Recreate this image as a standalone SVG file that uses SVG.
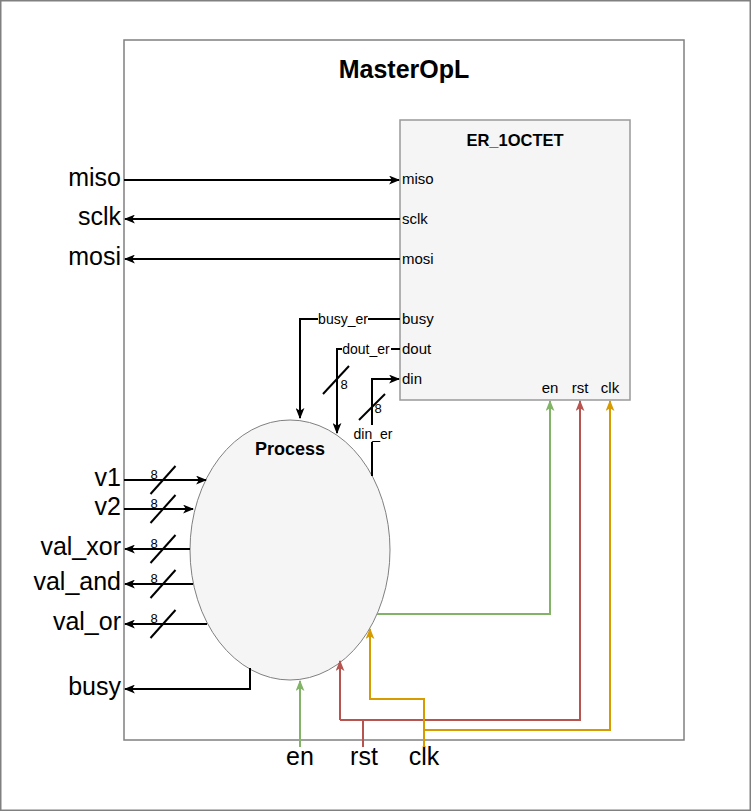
<svg xmlns="http://www.w3.org/2000/svg" width="751" height="811" viewBox="0 0 751 811">
<style>
text{font-family:"Liberation Sans",Arial,sans-serif;fill:#000}
.big{font-size:25px}
.port{font-size:15px}
.sm{font-size:14px}
.n8{font-size:13px;text-anchor:middle}
.w{stroke:#000;stroke-width:2;fill:none}
.g{stroke:#82b366;stroke-width:2;fill:none}
.r{stroke:#b85450;stroke-width:2;fill:none}
.o{stroke:#d79b00;stroke-width:2;fill:none}
.sl{stroke:#000;stroke-width:2}
.bg{fill:#fff}
</style>
<defs>
<marker id="ak" viewBox="0 0 10 8" refX="9" refY="4" markerWidth="11" markerHeight="9" markerUnits="userSpaceOnUse" orient="auto"><path d="M0,0 L10,4 L0,8 L2.5,4 Z" fill="#000"/></marker>
<marker id="ag" viewBox="0 0 10 8" refX="9" refY="4" markerWidth="11" markerHeight="9" markerUnits="userSpaceOnUse" orient="auto"><path d="M0,0 L10,4 L0,8 L2.5,4 Z" fill="#82b366"/></marker>
<marker id="ar" viewBox="0 0 10 8" refX="9" refY="4" markerWidth="11" markerHeight="9" markerUnits="userSpaceOnUse" orient="auto"><path d="M0,0 L10,4 L0,8 L2.5,4 Z" fill="#b85450"/></marker>
<marker id="ao" viewBox="0 0 10 8" refX="9" refY="4" markerWidth="11" markerHeight="9" markerUnits="userSpaceOnUse" orient="auto"><path d="M0,0 L10,4 L0,8 L2.5,4 Z" fill="#d79b00"/></marker>
</defs>
<rect x="0.75" y="0.75" width="749.5" height="809.5" fill="#fff" stroke="#808080" stroke-width="1.5"/>
<g id="MasterOpL">
<rect x="124" y="40" width="560" height="700" fill="#fff" stroke="#808080" stroke-width="1.5"/>
<text x="404" y="78" font-size="25" font-weight="bold" text-anchor="middle">MasterOpL</text>
</g>
<g id="ER_1OCTET">
<rect x="400" y="120" width="230" height="280" fill="#f5f5f5" stroke="#999" stroke-width="1.5"/>
<text x="515" y="146" font-size="16.5" font-weight="bold" text-anchor="middle">ER_1OCTET</text>
<text class="port" x="402" y="184">miso</text>
<text class="port" x="402" y="224">sclk</text>
<text class="port" x="402" y="264">mosi</text>
<text class="port" x="402" y="324">busy</text>
<text class="port" x="402" y="354">dout</text>
<text class="port" x="402" y="384">din</text>
<text class="port" x="550" y="393" text-anchor="middle">en</text>
<text class="port" x="580" y="393" text-anchor="middle">rst</text>
<text class="port" x="610" y="393" text-anchor="middle">clk</text>
</g>
<g id="Process">
<ellipse cx="290" cy="550" rx="100" ry="130" fill="#f5f5f5" stroke="#808080" stroke-width="1"/>
<text x="290" y="455" font-size="18" font-weight="bold" text-anchor="middle">Process</text>
</g>
<g id="labels">
<text class="big" x="121" y="186" text-anchor="end">miso</text>
<text class="big" x="121" y="225" text-anchor="end">sclk</text>
<text class="big" x="121" y="265" text-anchor="end">mosi</text>
<text class="big" x="121" y="486" text-anchor="end">v1</text>
<text class="big" x="121" y="515" text-anchor="end">v2</text>
<text class="big" x="121" y="555" text-anchor="end">val_xor</text>
<text class="big" x="121" y="590" text-anchor="end">val_and</text>
<text class="big" x="121" y="630" text-anchor="end">val_or</text>
<text class="big" x="121" y="695" text-anchor="end">busy</text>
<text class="big" x="300" y="765" text-anchor="middle">en</text>
<text class="big" x="364" y="765" text-anchor="middle">rst</text>
<text class="big" x="424" y="765" text-anchor="middle">clk</text>
</g>
<g id="connectors">
<path class="w" d="M124,180 H399" marker-end="url(#ak)"/>
<path class="w" d="M400,219 H125" marker-end="url(#ak)"/>
<path class="w" d="M400,259 H125" marker-end="url(#ak)"/>
<path class="w" d="M400,319 H300 V418" marker-end="url(#ak)"/>
<rect class="bg" x="318" y="311" width="50" height="16"/>
<text class="sm" x="343" y="324" text-anchor="middle">busy_er</text>
<path class="w" d="M400,349 H337 V433" marker-end="url(#ak)"/>
<rect class="bg" x="342" y="341" width="49" height="16"/>
<text class="sm" x="366" y="354" text-anchor="middle">dout_er</text>
<line class="sl" x1="323" y1="394" x2="349" y2="366"/>
<text class="n8" x="344" y="389">8</text>
<path class="w" d="M372,476 V379 H399" marker-end="url(#ak)"/>
<rect class="bg" x="351" y="425" width="44" height="17"/>
<text class="sm" x="373" y="439" text-anchor="middle">din_er</text>
<line class="sl" x1="359" y1="420" x2="385" y2="394"/>
<text class="n8" x="378" y="413">8</text>
<path class="w" d="M124,480 H206" marker-end="url(#ak)"/>
<path class="w" d="M124,509 H193" marker-end="url(#ak)"/>
<path class="w" d="M190,549 H125" marker-end="url(#ak)"/>
<path class="w" d="M193,584 H125" marker-end="url(#ak)"/>
<path class="w" d="M207,624 H125" marker-end="url(#ak)"/>
<path class="w" d="M250,668 V689 H125" marker-end="url(#ak)"/>
<line class="sl" x1="150.5" y1="494" x2="175.5" y2="466"/>
<text class="n8" x="154" y="479">8</text>
<line class="sl" x1="150.5" y1="523" x2="175.5" y2="495"/>
<text class="n8" x="154" y="508">8</text>
<line class="sl" x1="150.5" y1="563" x2="175.5" y2="535"/>
<text class="n8" x="154" y="548">8</text>
<line class="sl" x1="150.5" y1="598" x2="175.5" y2="570"/>
<text class="n8" x="154" y="583">8</text>
<line class="sl" x1="150.5" y1="638" x2="175.5" y2="610"/>
<text class="n8" x="154" y="623">8</text>
<path class="g" d="M377,614 H550 V401" marker-end="url(#ag)"/>
<path class="g" d="M300,747 V681" marker-end="url(#ag)"/>
<path class="r" d="M363,747 V720"/>
<path class="r" d="M340,720 H580 V401" marker-end="url(#ar)"/>
<path class="r" d="M340,720 V661" marker-end="url(#ar)"/>
<path class="o" d="M424,747 V699 H370 V629" marker-end="url(#ao)"/>
<path class="o" d="M424,730 H610 V401" marker-end="url(#ao)"/>
</g>
</svg>
